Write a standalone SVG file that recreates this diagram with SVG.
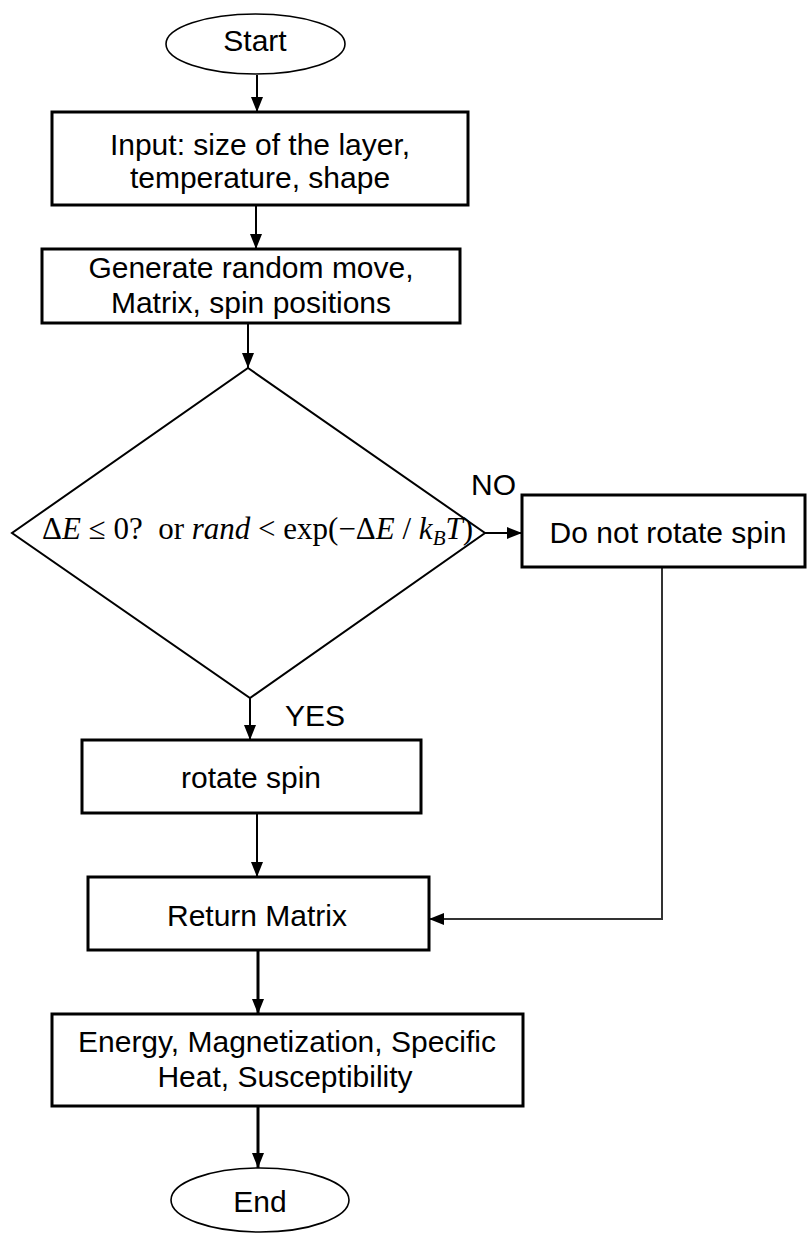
<svg xmlns="http://www.w3.org/2000/svg" width="807" height="1234" viewBox="0 0 807 1234">
<defs>
<style>
.box{fill:#fff;stroke:#000;stroke-width:3}
.term{fill:#fff;stroke:#000;stroke-width:1.6}
.dia{fill:#fff;stroke:#000;stroke-width:2}
.lbl{font-family:"Liberation Sans",Arial,sans-serif;font-size:30px;fill:#000;text-anchor:middle}
.tag{font-family:"Liberation Sans",Arial,sans-serif;font-size:30px;fill:#000}
.math{font-family:"Liberation Serif","Times New Roman",serif;font-size:31px;fill:#000}
.it{font-style:italic}
.c{fill:none;stroke:#000;stroke-width:2}
.c3{fill:none;stroke:#000;stroke-width:3}
.cl{fill:none;stroke:#333;stroke-width:2}
</style>
<marker id="ah" markerUnits="userSpaceOnUse" markerWidth="16" markerHeight="16" viewBox="0 0 16 16" refX="15" refY="8" orient="auto">
<path d="M0,2 L15,8 L0,14 Z" fill="#000"/>
</marker>
</defs>

<g id="connectors">
<path class="c" d="M257,75 V112" marker-end="url(#ah)"/>
<path class="c" d="M256,205 V249" marker-end="url(#ah)"/>
<path class="c" d="M248,323 V368" marker-end="url(#ah)"/>
<path class="c" d="M485,533 H522" marker-end="url(#ah)"/>
<path class="c" d="M250,698 V740" marker-end="url(#ah)"/>
<path class="c" d="M257,813 V877" marker-end="url(#ah)"/>
<path class="cl" d="M662,567 V919 H429" marker-end="url(#ah)"/>
<path class="c3" d="M258,950 V1014" marker-end="url(#ah)"/>
<path class="c3" d="M258,1106 V1168" marker-end="url(#ah)"/>
</g>

<g id="start">
<ellipse class="term" cx="255.5" cy="44" rx="89.5" ry="30"/>
<text class="lbl" x="255" y="51">Start</text>
</g>

<g id="input">
<rect class="box" x="52" y="112" width="416" height="93"/>
<text class="lbl" x="260" y="155">Input: size of the layer,</text>
<text class="lbl" x="260" y="188">temperature, shape</text>
</g>

<g id="generate">
<rect class="box" x="42" y="249" width="418" height="74"/>
<text class="lbl" x="251" y="278">Generate random move,</text>
<text class="lbl" x="251" y="313">Matrix, spin positions</text>
</g>

<g id="decision">
<polygon class="dia" points="248,368 485,533 250,698 12,533"/>
<text class="math" x="42" y="539" xml:space="preserve">Δ<tspan class="it">E</tspan> ≤ 0?  or <tspan class="it">rand</tspan> &lt; exp(−Δ<tspan class="it">E</tspan> / <tspan class="it">k</tspan><tspan class="it" font-size="21" dy="6">B</tspan><tspan class="it" dy="-6">T</tspan>)</text>
</g>

<g id="no-label">
<text class="tag" x="471" y="495">NO</text>
</g>

<g id="yes-label">
<text class="tag" x="285" y="726">YES</text>
</g>

<g id="norotate">
<rect class="box" x="522" y="495" width="283" height="72"/>
<text class="lbl" x="668" y="543">Do not rotate spin</text>
</g>

<g id="rotate">
<rect class="box" x="82" y="740" width="339" height="73"/>
<text class="lbl" x="251" y="788">rotate spin</text>
</g>

<g id="return">
<rect class="box" x="88" y="877" width="341" height="73"/>
<text class="lbl" x="257" y="926">Return Matrix</text>
</g>

<g id="results">
<rect class="box" x="52" y="1014" width="471" height="92"/>
<text class="lbl" x="287" y="1052">Energy, Magnetization, Specific</text>
<text class="lbl" x="285" y="1087">Heat, Susceptibility</text>
</g>

<g id="end">
<ellipse class="term" cx="260" cy="1200" rx="89" ry="32"/>
<text class="lbl" x="260" y="1212">End</text>
</g>
</svg>
